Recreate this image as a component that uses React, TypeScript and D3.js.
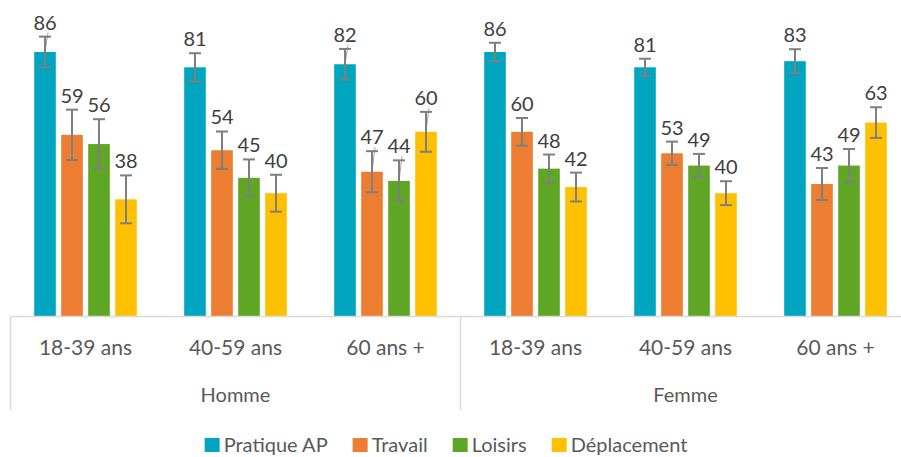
import React, { useEffect, useRef } from "react";
import * as d3 from "d3";

// données
const ageLabels = ["18-39 ans", "40-59 ans", "60 ans +", "18-39 ans", "40-59 ans", "60 ans +"];
const groups = ["Homme", "Femme"];
const series = ["Pratique AP", "Travail", "Loisirs", "Déplacement"];
const colors = ["#00A5BF", "#ED7D31", "#5FA625", "#FFC000"];

const pratique = [86, 81, 82, 86, 81, 83];
const travail = [59, 54, 47, 60, 53, 43];
const loisirs = [56, 45, 44, 48, 49, 49];
const deplacement = [38, 40, 60, 42, 40, 63];

// demi-largeur des barres d'erreur
const errPratique = [5, 4.6, 5, 3, 2.8, 3.9];
const errTravail = [8.2, 6.1, 6.7, 4.5, 3.8, 5.2];
const errLoisirs = [8.1, 6, 6.7, 4.6, 3.8, 5.4];
const errDeplacement = [7.8, 6, 6.5, 4.7, 3.9, 5];

// lignes de rappel visibles (catégorie, série)
const leaderLines = [[0, 0], [2, 0], [2, 1], [2, 2], [2, 3]];

const values = [pratique, travail, loisirs, deplacement];
const errors = [errPratique, errTravail, errLoisirs, errDeplacement];

const font = "Lato, 'Open Sans', sans-serif";

export default function App() {
  const ref = useRef<SVGSVGElement>(null);

  useEffect(() => {
    const svg = d3.select(ref.current);
    svg.selectAll("*").remove();

    const width = 901;
    const height = 457;
    const baseY = 316;

    const x = d3.scaleBand<number>()
      .domain(d3.range(ageLabels.length))
      .range([10.5, 910.5]);

    const xs = d3.scaleBand<number>()
      .domain(d3.range(series.length))
      .range([-54, 54])
      .paddingInner(0.2)
      .paddingOuter(0.1);

    const y = d3.scaleLinear().domain([0, 100]).range([baseY, 9]);

    const rows = ageLabels.flatMap((_, c) =>
      series.map((_, s) => ({
        c,
        s,
        v: values[s][c],
        e: errors[s][c],
        cx: x(c)! + x.bandwidth() / 2 + xs(s)! + xs.bandwidth() / 2,
      }))
    );

    // barres
    svg.append("g")
      .selectAll("rect")
      .data(rows)
      .join("rect")
      .attr("x", d => d.cx - xs.bandwidth() / 2)
      .attr("y", d => y(d.v))
      .attr("width", xs.bandwidth())
      .attr("height", d => baseY - y(d.v))
      .attr("fill", d => colors[d.s]);

    // axe
    svg.append("line")
      .attr("x1", 10.5).attr("x2", width)
      .attr("y1", baseY + 0.5).attr("y2", baseY + 0.5)
      .attr("stroke", "#d9d9d9").attr("stroke-width", 1.5);

    const bounds = d3.range(groups.length + 1).map(i => 10.5 + i * 3 * x.bandwidth());
    svg.append("g")
      .selectAll("line")
      .data(bounds)
      .join("line")
      .attr("x1", d => d).attr("x2", d => d)
      .attr("y1", baseY + 0.5).attr("y2", 410)
      .attr("stroke", "#d9d9d9").attr("stroke-width", 1.5);

    // lignes de rappel
    const leaders = rows.filter(d => leaderLines.some(([c, s]) => c === d.c && s === d.s));
    svg.append("g")
      .selectAll("line")
      .data(leaders)
      .join("line")
      .attr("x1", d => d.cx + 3)
      .attr("y1", d => y(d.v + d.e) - 4)
      .attr("x2", d => d.cx)
      .attr("y2", d => y(d.v))
      .attr("stroke", "#a6a6a6")
      .attr("stroke-width", 1);

    // barres d'erreur
    const eb = svg.append("g")
      .attr("stroke", "#7f7f7f")
      .attr("stroke-width", 2);
    rows.forEach(d => {
      const top = y(d.v + d.e);
      const bot = y(d.v - d.e);
      eb.append("line").attr("x1", d.cx).attr("x2", d.cx).attr("y1", top).attr("y2", bot);
      eb.append("line").attr("x1", d.cx - 6).attr("x2", d.cx + 6).attr("y1", top).attr("y2", top);
      eb.append("line").attr("x1", d.cx - 6).attr("x2", d.cx + 6).attr("y1", bot).attr("y2", bot);
    });

    // étiquettes de valeurs
    svg.append("g")
      .selectAll("text")
      .data(rows)
      .join("text")
      .attr("x", d => d.cx)
      .attr("y", d => y(d.v + d.e) - 7)
      .attr("text-anchor", "middle")
      .style("font-family", font)
      .style("font-size", "20px")
      .style("fill", "#404040")
      .text(d => d.v);

    // libellés d'âge
    svg.append("g")
      .selectAll("text")
      .data(ageLabels)
      .join("text")
      .attr("x", (_, i) => x(i)! + x.bandwidth() / 2)
      .attr("y", 355)
      .attr("text-anchor", "middle")
      .style("font-family", font)
      .style("font-size", "21px")
      .style("fill", "#595959")
      .text(d => d);

    // sexe
    svg.append("g")
      .selectAll("text")
      .data(groups)
      .join("text")
      .attr("x", (_, i) => (bounds[i] + bounds[i + 1]) / 2)
      .attr("y", 402)
      .attr("text-anchor", "middle")
      .style("font-family", font)
      .style("font-size", "20px")
      .style("fill", "#595959")
      .text(d => d);

    // légende
    const legend = svg.append("g");
    let lx = 0;
    series.forEach((name, i) => {
      const item = legend.append("g").attr("transform", `translate(${lx},0)`);
      item.append("rect")
        .attr("x", 0).attr("y", 438)
        .attr("width", 15).attr("height", 14)
        .attr("fill", colors[i]);
      const t = item.append("text")
        .attr("x", 19).attr("y", 452)
        .style("font-family", font)
        .style("font-size", "20px")
        .style("fill", "#595959")
        .text(name);
      const w = (t.node() as SVGTextElement).getComputedTextLength();
      lx += 19 + w + 25;
    });
    const total = lx - 25;
    legend.attr("transform", `translate(${446 - total / 2},0)`);

    svg.attr("width", width).attr("height", height);
  }, []);

  return (
    <div style={{ position: "absolute", left: 0, top: 0 }}>
      <svg ref={ref} width={901} height={457} style={{ display: "block", background: "#fff" }} />
    </div>
  );
}
